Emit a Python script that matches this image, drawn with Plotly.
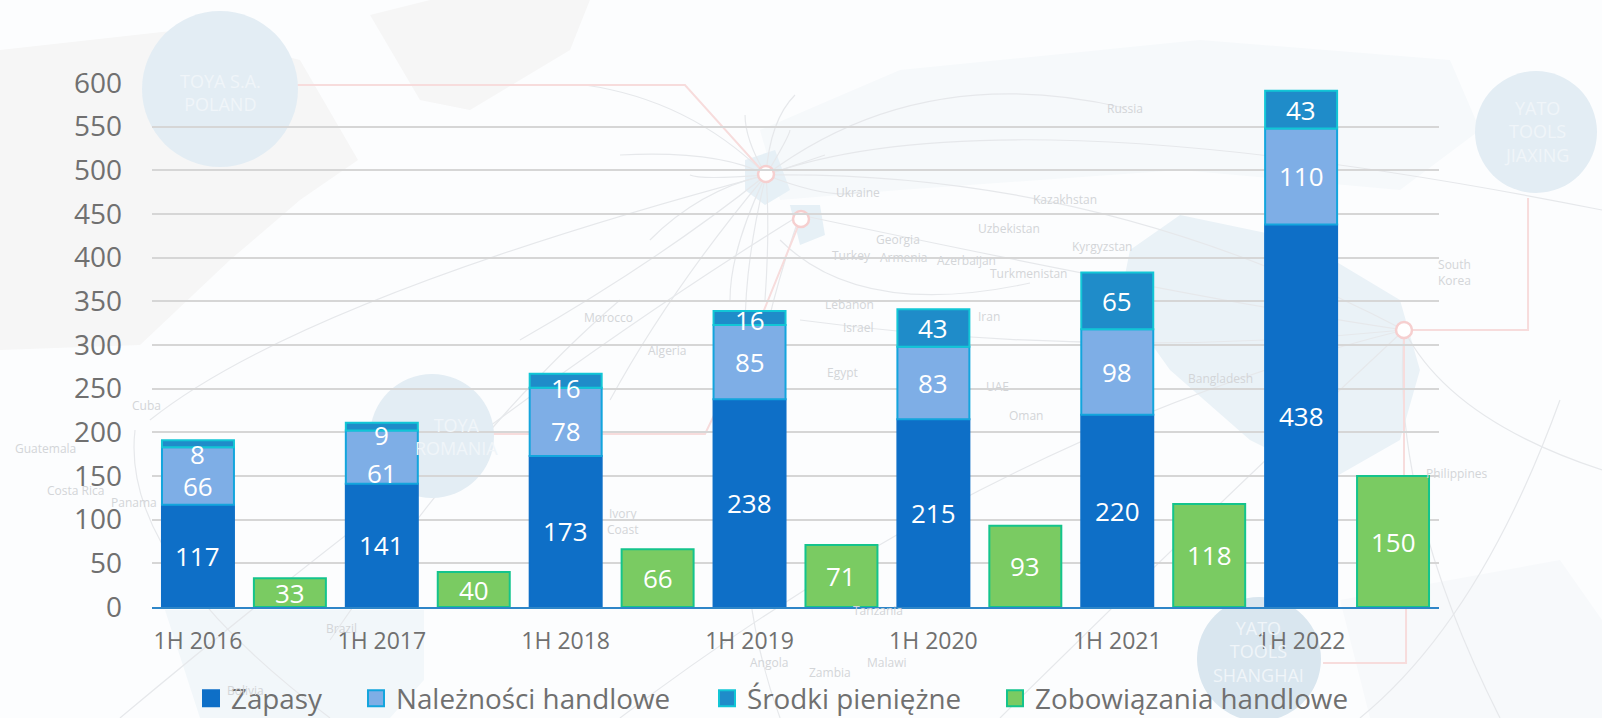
import plotly.graph_objects as go

categories = ["1H 2016", "1H 2017", "1H 2018", "1H 2019", "1H 2020", "1H 2021", "1H 2022"]
zapasy = [117, 141, 173, 238, 215, 220, 438]
naleznosci = [66, 61, 78, 85, 83, 98, 110]
srodki = [8, 9, 16, 16, 43, 65, 43]
zobowiazania = [33, 40, 66, 71, 93, 118, 150]
tick_values = list(range(0, 601, 50))

# pixel shift of the labels on thin stacks, as in the picture
shift_naleznosci = [-10, -16, -9, 0, 0, 0, 0]
shift_srodki = [-10, -8, -7, -2, 0, 0, 0]

L, R, T, B = 152, 1439, 83, 607
idx = list(range(len(categories)))
GREY = "#707070"


def px(x, y):
    return (x - L) / (R - L), (B - y) / (B - T)


fig = go.Figure()
white = dict(color="white", size=26, family="Open Sans")
series = [
    ("Zapasy", zapasy, "#0e6fc7", "#0e6fc7", [0] * 7),
    ("Należności handlowe", naleznosci, "#7eaee6", "#13a5dd", zapasy),
    ("Środki pieniężne", srodki, "#1f8cc9", "#12c6d6", [a + b for a, b in zip(zapasy, naleznosci)]),
]
for name, vals, color, edge, base in series:
    fig.add_trace(go.Bar(x=idx, y=vals, base=base, name=name, offsetgroup="a", showlegend=False,
                         marker=dict(color=color, line=dict(color=edge, width=2))))
fig.add_trace(go.Bar(x=idx, y=zobowiazania, name="Zobowiązania handlowe", offsetgroup="b", showlegend=False,
                     marker=dict(color="#7acb62", line=dict(color="#14c48c", width=2))))

# value labels
for i in idx:
    fig.add_annotation(x=i - 0.25, y=zapasy[i] / 2, text=str(zapasy[i]), showarrow=False, font=white)
    fig.add_annotation(x=i - 0.25, y=zapasy[i] + naleznosci[i] / 2, yshift=shift_naleznosci[i],
                       text=str(naleznosci[i]), showarrow=False, font=white)
    fig.add_annotation(x=i - 0.25, y=zapasy[i] + naleznosci[i] + srodki[i] / 2, yshift=shift_srodki[i],
                       text=str(srodki[i]), showarrow=False, font=white)
    fig.add_annotation(x=i + 0.25, y=zobowiazania[i] / 2, text=str(zobowiazania[i]), showarrow=False, font=white)

# legend entries, each placed on its own
legend_x = [191, 356, 707, 995]
legends = {}
entries = series + [("Zobowiązania handlowe", None, "#7acb62", "#14c48c", None)]
for k, ((name, vals, color, edge, base), lx) in enumerate(zip(entries, legend_x)):
    key = "legend" if k == 0 else f"legend{k + 1}"
    fig.add_trace(go.Scatter(x=[None], y=[None], mode="markers", name=name, legend=key, showlegend=True,
                             marker=dict(symbol="square", size=16, color=color, line=dict(color=edge, width=2))))
    legends[key] = dict(x=(lx - L) / (R - L), xanchor="left", yref="container", y=0.027, yanchor="middle",
                        font=dict(size=27.8, color=GREY, family="Open Sans"), itemwidth=30,
                        bgcolor="rgba(0,0,0,0)", borderwidth=0, itemclick=False, itemdoubleclick=False)

# faint world map behind the chart
shapes = []


def path_of(points):
    d = ""
    for j, (x, y) in enumerate(points):
        u, v = px(x, y)
        d += ("M" if j == 0 else "L") + f"{u:.4f},{v:.4f} "
    return d


def blob(points, fill):
    shapes.append(dict(type="path", path=path_of(points) + "Z", xref="paper", yref="paper", layer="below",
                       fillcolor=fill, line=dict(width=0)))


def curve(a, c, b, color="#e6e8eb", width=1.2):
    (x0, y0), (x1, y1), (x2, y2) = px(*a), px(*c), px(*b)
    shapes.append(dict(type="path", path=f"M{x0:.4f},{y0:.4f} Q{x1:.4f},{y1:.4f} {x2:.4f},{y2:.4f}",
                       xref="paper", yref="paper", layer="below", line=dict(color=color, width=width)))


def poly(points, color="#f7dcdc", width=2):
    shapes.append(dict(type="path", path=path_of(points), xref="paper", yref="paper", layer="below",
                       line=dict(color=color, width=width)))


def circle(cx, cy, r, fill, edge=None, width=0):
    u0, v0 = px(cx - r, cy + r)
    u1, v1 = px(cx + r, cy - r)
    shapes.append(dict(type="circle", xref="paper", yref="paper", layer="below", x0=u0, y0=v0, x1=u1, y1=v1,
                       fillcolor=fill, line=dict(color=edge or fill, width=width)))


blob([(0, 50), (180, 30), (300, 60), (358, 160), (300, 200), (230, 260), (140, 345), (0, 350)], "#f6f6f6")
blob([(370, 15), (430, 0), (590, 0), (570, 50), (470, 110), (420, 100)], "#f6f6f6")
blob([(760, 130), (900, 70), (1200, 40), (1450, 60), (1480, 130), (1400, 190), (1180, 170), (900, 190), (780, 200)],
     "#f6f9fb")
blob([(1130, 250), (1180, 215), (1300, 240), (1400, 300), (1420, 370), (1400, 440), (1330, 480), (1250, 440),
      (1170, 370), (1120, 300)], "#eaf2f7")
blob([(165, 610), (424, 610), (424, 680), (390, 718), (200, 718)], "#f2f7fa")
blob([(1340, 600), (1560, 560), (1602, 620), (1602, 718), (1370, 718)], "#f7f9fb")
blob([(745, 160), (775, 150), (790, 190), (765, 205), (745, 190)], "#e6f0f6")
blob([(790, 205), (820, 205), (825, 235), (800, 245)], "#e6f0f6")

for a, c, b in [
    ((766, 175), (920, 60), (1125, 108)),
    ((766, 175), (660, 260), (520, 340)),
    ((766, 175), (690, 100), (585, 85)),
    ((766, 175), (720, 150), (620, 155)),
    ((766, 175), (700, 180), (690, 175)),
    ((766, 175), (770, 120), (795, 95)),
    ((766, 175), (745, 140), (745, 115)),
    ((766, 175), (790, 135), (790, 130)),
    ((766, 175), (810, 160), (825, 155)),
    ((766, 175), (700, 190), (650, 240)),
    ((766, 175), (730, 250), (730, 300)),
    ((766, 175), (745, 260), (745, 330)),
    ((766, 175), (770, 230), (765, 300)),
    ((766, 175), (830, 200), (860, 192)),
    ((766, 175), (670, 290), (610, 400)),
    ((766, 175), (1000, 90), (1602, 210)),
    ((1404, 330), (1100, 170), (766, 175)),
    ((1404, 330), (1200, 300), (800, 215)),
    ((1404, 330), (1100, 360), (800, 320)),
    ((1404, 330), (1390, 500), (1500, 718)),
    ((1404, 330), (1450, 420), (1602, 470)),
    ((1404, 330), (1200, 520), (1000, 718)),
    ((1404, 330), (1000, 430), (620, 718)),
    ((800, 215), (500, 400), (120, 718)),
    ((800, 215), (700, 500), (780, 718)),
    ((766, 175), (300, 300), (150, 420)),
    ((620, 300), (480, 420), (330, 640)),
    ((135, 430), (120, 560), (330, 718)),
    ((1560, 400), (1480, 620), (1360, 718)),
    ((780, 240), (860, 320), (1030, 283)),
]:
    curve(a, c, b)

poly([(295, 85), (685, 85), (766, 175)])
poly([(801, 219), (760, 320), (705, 434), (490, 434)])
poly([(1404, 330), (1528, 330), (1528, 198)])
poly([(1406, 607), (1406, 663), (1323, 663)])
poly([(1404, 330), (1404, 607)])
circle(220, 89, 78, "#e3edf4")
circle(1536, 132, 61, "#e3edf4")
circle(432, 436, 62, "#e3edf4")
circle(1259, 659, 62, "#d9e6ef")
circle(766, 174, 8, "#ffffff", "#f6cfcf", 2.5)
circle(801, 219, 8, "#ffffff", "#f6cfcf", 2.5)
circle(1404, 330, 8, "#ffffff", "#f6cfcf", 2.5)

# circle captions and country names in the background picture
captions = [("TOYA S.A.<br>POLAND", 220, 93), ("YATO<br>TOOLS<br>JIAXING", 1536, 131),
            ("TOYA<br>ROMANIA", 456, 436), ("YATO<br>TOOLS<br>SHANGHAI", 1258, 651)]
places = [("Russia", 1125, 108), ("Ukraine", 858, 192), ("Kazakhstan", 1065, 199), ("Georgia", 898, 239),
          ("Uzbekistan", 1009, 229), ("Kyrgyzstan", 1102, 246), ("Turkey", 851, 256), ("Armenia", 903, 257),
          ("Azerbaijan", 966, 260), ("Turkmenistan", 1028, 273), ("Morocco", 608, 317),
          ("Algeria", 667, 350), ("Lebanon", 849, 304), ("Israel", 858, 327), ("Iran", 989, 316), ("Egypt", 842, 372),
          ("UAE", 998, 386), ("Oman", 1026, 415), ("Bangladesh", 1220, 378), ("South<br>Korea", 1454, 272),
          ("Philippines", 1456, 473), ("Cuba", 146, 406), ("Guatemala", 45, 448), ("Costa Rica", 75, 490),
          ("Panama", 134, 502), ("Ivory<br>Coast", 622, 521), ("Brazil", 341, 628), ("Angola", 769, 662),
          ("Zambia", 830, 672), ("Malawi", 887, 662), ("Tanzania", 878, 610), ("Bolivia", 245, 690)]
bg = []
for text, x, y in captions:
    u, v = px(x, y)
    bg.append(dict(x=u, y=v, xref="paper", yref="paper", text=text, showarrow=False, xanchor="center",
                   yanchor="middle", font=dict(size=18, color="#f0f5f9", family="Open Sans")))
for text, x, y in places:
    u, v = px(x, y)
    bg.append(dict(x=u, y=v, xref="paper", yref="paper", text=text, showarrow=False, xanchor="center",
                   yanchor="middle", font=dict(size=12, color="#d3d5d8", family="Open Sans")))
fig.layout.annotations = bg + list(fig.layout.annotations)

fig.update_layout(
    barmode="group", bargap=0, bargroupgap=0.217, width=1602, height=718, autosize=False,
    paper_bgcolor="#fcfdfe", plot_bgcolor="rgba(0,0,0,0)", shapes=shapes, showlegend=True,
    margin=dict(l=L, r=1602 - R, t=T, b=718 - B, pad=0),
    font=dict(family="Open Sans", color=GREY),
    xaxis=dict(range=[-0.5, 6.5], tickvals=[i - 0.25 for i in idx], ticktext=categories,
               tickfont=dict(size=23, color=GREY), showline=True, linecolor="#2e86c8", linewidth=2,
               ticks="outside", ticklen=12, tickcolor="rgba(0,0,0,0)", showgrid=False, zeroline=False),
    yaxis=dict(range=[0, 600], tickvals=tick_values, tickfont=dict(size=28, color=GREY),
               gridcolor="#d6d6d6", gridwidth=1.5, zeroline=False, ticks="", ticklabelstandoff=29),
    **legends,
)
fig.write_html("out.html", config={"displayModeBar": False},
               post_script="document.body.style.margin='0';document.body.style.overflow='hidden';document.body.style.background='#fcfdfe';")
